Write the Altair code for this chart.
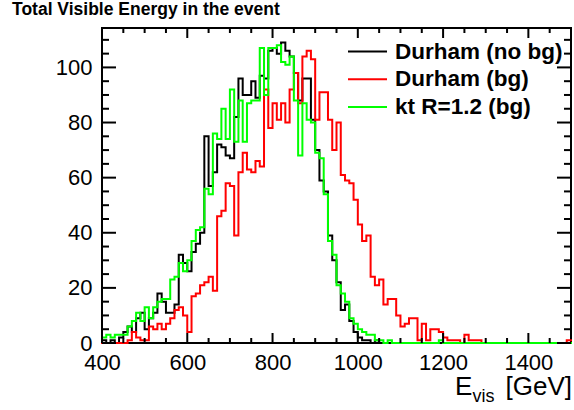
import altair as alt
import pandas as pd

# ---- histogram definition (10 GeV bins starting at 400 GeV) ----
E_START = 400
E_WIDTH = 10

durham_nobg = [1, 0, 1, 0, 2, 4, 6, 4, 9, 11,
               5, 9, 11, 18, 15, 11, 11, 14, 32, 29,
               26, 33, 36, 40, 75, 57, 62, 72, 71, 68,
               67, 82, 96, 90, 90, 95, 89, 97, 96, 106,
               107, 105, 109, 106, 104, 98, 88, 96, 96, 81,
               70, 59, 55, 39, 30, 22, 12, 14, 8, 4,
               2, 1, 1, 0, 1, 0, 0, 0, 0, 0,
               0, 0, 0, 0, 0, 0, 0, 0, 0, 0,
               0, 0, 0, 0, 0, 0, 0, 0, 0, 0,
               0, 0, 0, 0, 0, 0, 0, 0, 0, 0,
               0, 0, 0, 0, 0, 0, 0, 0, 0, 0]

durham_bg = [0, 0, 0, 0, 0, 0, 1, 4, 2, 1,
             1, 6, 5, 7, 5, 7, 9, 12, 13, 10,
             4, 17, 18, 21, 22, 24, 19, 46, 48, 58,
             57, 39, 62, 69, 63, 62, 66, 64, 92, 78,
             87, 81, 87, 80, 92, 98, 87, 104, 106, 103,
             81, 91, 91, 81, 70, 80, 61, 59, 58, 52,
             43, 37, 39, 24, 21, 23, 14, 16, 16, 10,
             6, 7, 9, 9, 1, 7, 1, 5, 5, 4,
             2, 1, 1, 1, 0, 3, 1, 1, 1, 0,
             0, 0, 0, 0, 0, 0, 0, 0, 0, 0,
             0, 0, 0, 0, 0, 0, 0, 0, 0, 1]

kt_bg = [2, 3, 2, 3, 3, 3, 6, 8, 11, 8,
         13, 9, 13, 15, 16, 16, 23, 24, 29, 26,
         30, 37, 41, 42, 56, 54, 76, 74, 85, 74,
         92, 73, 88, 73, 87, 88, 88, 107, 90, 107,
         107, 108, 102, 101, 104, 88, 68, 87, 81, 80,
         69, 67, 54, 37, 32, 21, 18, 15, 9, 7,
         5, 4, 3, 3, 1, 1, 0, 1, 0, 0,
         0, 0, 0, 0, 0, 0, 0, 0, 0, 1,
         0, 0, 0, 0, 0, 0, 0, 0, 0, 0,
         0, 0, 0, 0, 0, 0, 0, 0, 0, 0,
         0, 0, 0, 0, 0, 0, 0, 0, 0, 0]

series_names = ["Durham (no bg)", "Durham (bg)", "kt R=1.2 (bg)"]
series_colors = ["#000000", "#ff0000", "#00ff00"]
series_values = [durham_nobg, durham_bg, kt_bg]

x_major = [400, 600, 800, 1000, 1200, 1400]
x_minor = [450, 500, 550, 650, 700, 750, 850, 900, 950,
           1050, 1100, 1150, 1250, 1300, 1350, 1450]
y_major = [0, 20, 40, 60, 80, 100]
y_minor = [5, 10, 15, 25, 30, 35, 45, 50, 55, 65, 70, 75,
           85, 90, 95, 105, 110]

chart_title = "Total Visible Energy in the event"

W, H = 469, 315
FONT = "Liberation Sans"

xscale = alt.Scale(domain=[400, 1500], nice=False, zero=False)
yscale = alt.Scale(domain=[0, 114.3], nice=False, zero=True)

xaxis = alt.Axis(values=x_major, format="d", labelFontSize=22, labelFont=FONT,
                 labelColor="black", ticks=False, domain=False, grid=False,
                 labelPadding=9, title=None, labelFlush=False, labelOverlap=False)
yaxis = alt.Axis(values=y_major, format="d", labelFontSize=22, labelFont=FONT,
                 labelColor="black", ticks=False, domain=False, grid=False,
                 labelPadding=10, title=None, labelFlush=False, labelOverlap=False)


def hist_frame(vals):
    edges = [E_START + E_WIDTH * i for i in range(len(vals) + 1)]
    return pd.DataFrame({"E": edges, "n": list(vals) + [vals[-1]]})


layers = []
for vals, col in zip(series_values, series_colors):
    layers.append(
        alt.Chart(hist_frame(vals)).mark_line(
            interpolate="step-after", color=col, strokeWidth=2,
            strokeJoin="miter", strokeCap="square"
        ).encode(x=alt.X("E:Q", scale=xscale, axis=xaxis),
                 y=alt.Y("n:Q", scale=yscale, axis=yaxis))
    )


def xticks(vals, y1, y2):
    return alt.Chart(pd.DataFrame({"E": vals})).mark_rule(
        color="black", strokeWidth=2).encode(
        x=alt.X("E:Q", scale=xscale, axis=xaxis),
        y=alt.value(y1), y2=alt.value(y2))


def yticks(vals, x1, x2):
    return alt.Chart(pd.DataFrame({"n": vals})).mark_rule(
        color="black", strokeWidth=2).encode(
        y=alt.Y("n:Q", scale=yscale, axis=yaxis),
        x=alt.value(x1), x2=alt.value(x2))


ticks = [
    xticks(x_major, H, H - 10), xticks(x_minor, H, H - 5),
    xticks(x_major, 0, 10), xticks(x_minor, 0, 5),
    yticks(y_major, 0, 14), yticks(y_minor, 0, 7),
    yticks(y_major, W, W - 14), yticks(y_minor, W, W - 7),
]

legend = []
for i, (name, col) in enumerate(zip(series_names, series_colors)):
    ly = 23.5 + 27.8 * i
    d = pd.DataFrame({"t": [name]})
    legend.append(alt.Chart(d).mark_rule(color=col, strokeWidth=2).encode(
        x=alt.value(246), x2=alt.value(285), y=alt.value(ly)))
    legend.append(alt.Chart(d).mark_text(
        align="left", baseline="middle", fontSize=22.5, fontWeight="bold",
        font=FONT, color="black").encode(
        x=alt.value(293), y=alt.value(ly), text="t:N"))

txt = pd.DataFrame({"t": [chart_title]})
title_layer = alt.Chart(txt).mark_text(
    align="left", baseline="alphabetic", fontSize=17.5, fontWeight="bold",
    font=FONT, color="black").encode(x=alt.value(-90), y=alt.value(-13.5), text="t:N")

xt1 = alt.Chart(pd.DataFrame({"t": ["E"]})).mark_text(
    align="left", baseline="alphabetic", fontSize=26, font=FONT, color="black"
).encode(x=alt.value(353), y=alt.value(366.5), text="t:N")
xt2 = alt.Chart(pd.DataFrame({"t": ["vis"]})).mark_text(
    align="left", baseline="alphabetic", fontSize=18, font=FONT, color="black"
).encode(x=alt.value(370.5), y=alt.value(373.5), text="t:N")
xt3 = alt.Chart(pd.DataFrame({"t": ["[GeV]"]})).mark_text(
    align="right", baseline="alphabetic", fontSize=26, font=FONT, color="black"
).encode(x=alt.value(470), y=alt.value(366.5), text="t:N")

chart = alt.layer(*layers, *ticks, *legend, title_layer, xt1, xt2, xt3).properties(
    width=W, height=H,
    padding={"left": 102, "top": 28, "right": 3, "bottom": 67},
    autosize=alt.AutoSizeParams(type="none"),
    background="white",
).configure_view(stroke="black", strokeWidth=2)

chart.save("out.html", embed_options={"renderer": "svg", "actions": False})
